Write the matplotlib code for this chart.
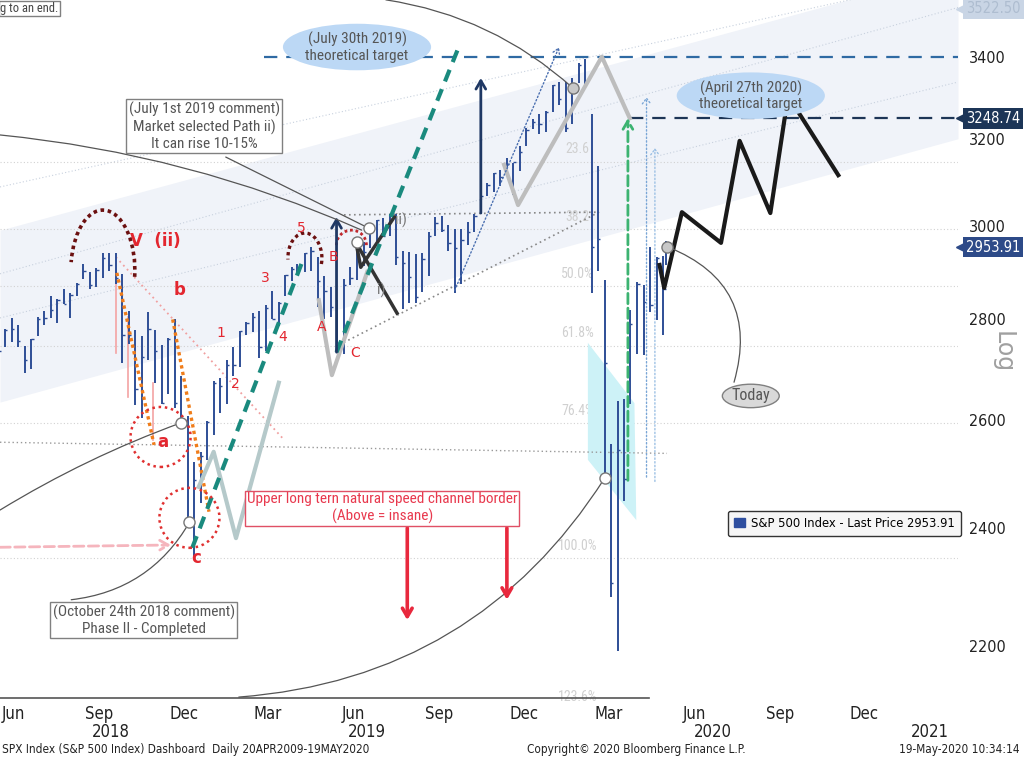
import os
import matplotlib
matplotlib.use("Agg")
import matplotlib.pyplot as plt
import matplotlib.dates as mdates
import matplotlib.patches as mpatches
from matplotlib import font_manager as fm
from matplotlib.font_manager import FontProperties
from matplotlib.transforms import ScaledTranslation, blended_transform_factory
from matplotlib.ticker import NullLocator, NullFormatter
import pandas as pd

# ---------------- data (weekly S&P 500 bars) ----------------
week_end = ["2018-06-01", "2018-06-08", "2018-06-15", "2018-06-22", "2018-06-29",
            "2018-07-06", "2018-07-13", "2018-07-20", "2018-07-27", "2018-08-03",
            "2018-08-10", "2018-08-17", "2018-08-24", "2018-08-31", "2018-09-07",
            "2018-09-14", "2018-09-21", "2018-09-28", "2018-10-05", "2018-10-12",
            "2018-10-19", "2018-10-26", "2018-11-02", "2018-11-09", "2018-11-16",
            "2018-11-23", "2018-11-30", "2018-12-07", "2018-12-14", "2018-12-21",
            "2018-12-28", "2019-01-04", "2019-01-11", "2019-01-18", "2019-01-25",
            "2019-02-01", "2019-02-08", "2019-02-15", "2019-02-22", "2019-03-01",
            "2019-03-08", "2019-03-15", "2019-03-22", "2019-03-29", "2019-04-05",
            "2019-04-12", "2019-04-18", "2019-04-26", "2019-05-03", "2019-05-10",
            "2019-05-17", "2019-05-24", "2019-05-31", "2019-06-07", "2019-06-14",
            "2019-06-21", "2019-06-28", "2019-07-05", "2019-07-12", "2019-07-19",
            "2019-07-26", "2019-08-02", "2019-08-09", "2019-08-16", "2019-08-23",
            "2019-08-30", "2019-09-06", "2019-09-13", "2019-09-20", "2019-09-27",
            "2019-10-04", "2019-10-11", "2019-10-18", "2019-10-25", "2019-11-01",
            "2019-11-08", "2019-11-15", "2019-11-22", "2019-11-29", "2019-12-06",
            "2019-12-13", "2019-12-20", "2019-12-27", "2020-01-03", "2020-01-10",
            "2020-01-17", "2020-01-24", "2020-01-31", "2020-02-07", "2020-02-14",
            "2020-02-21", "2020-02-28", "2020-03-06", "2020-03-13", "2020-03-20",
            "2020-03-27", "2020-04-03", "2020-04-09", "2020-04-17", "2020-04-24",
            "2020-05-01", "2020-05-08", "2020-05-15", "2020-05-18"]
high = [2742, 2780, 2802, 2789, 2746, 2760, 2804, 2817, 2848, 2842,
        2863, 2856, 2876, 2916, 2900, 2908, 2941, 2940, 2940, 2895,
        2817, 2779, 2766, 2815, 2779, 2748, 2761, 2800, 2685, 2607,
        2520, 2538, 2598, 2675, 2682, 2717, 2744, 2776, 2794, 2813,
        2817, 2831, 2860, 2836, 2893, 2910, 2916, 2940, 2954, 2932,
        2892, 2868, 2840, 2885, 2911, 2964, 2964, 2996, 3014, 3018,
        3028, 3028, 2945, 2943, 2939, 2940, 2986, 3021, 3022, 3002,
        2993, 2993, 3008, 3027, 3067, 3098, 3120, 3128, 3154, 3144,
        3183, 3226, 3248, 3258, 3267, 3330, 3338, 3338, 3348, 3385,
        3394, 3260, 3137, 2883, 2554, 2637, 2641, 2819, 2879, 2872,
        2955, 2933, 2934, 2968]
low = [2677, 2743, 2753, 2743, 2692, 2699, 2766, 2789, 2802, 2792,
       2833, 2802, 2849, 2885, 2864, 2868, 2887, 2903, 2874, 2711,
       2750, 2628, 2604, 2718, 2671, 2631, 2650, 2622, 2583, 2409,
       2347, 2444, 2524, 2570, 2613, 2631, 2685, 2704, 2768, 2775,
       2722, 2736, 2801, 2786, 2849, 2881, 2898, 2899, 2901, 2825,
       2801, 2806, 2751, 2729, 2873, 2883, 2913, 2952, 2966, 2975,
       2977, 2914, 2822, 2834, 2835, 2857, 2892, 2979, 2986, 2946,
       2856, 2874, 2959, 2986, 3026, 3067, 3076, 3091, 3115, 3070,
       3124, 3184, 3223, 3212, 3215, 3264, 3281, 3215, 3236, 3334,
       3329, 2856, 2902, 2479, 2281, 2192, 2448, 2630, 2730, 2727,
       2816, 2798, 2767, 2914]
close = [2735, 2779, 2780, 2755, 2718, 2760, 2801, 2802, 2819, 2840,
         2833, 2850, 2875, 2902, 2872, 2905, 2930, 2914, 2886, 2767,
         2768, 2659, 2723, 2781, 2736, 2633, 2760, 2633, 2600, 2417,
         2486, 2532, 2596, 2671, 2665, 2707, 2708, 2776, 2793, 2804,
         2743, 2823, 2801, 2834, 2893, 2907, 2905, 2940, 2946, 2881,
         2860, 2826, 2752, 2873, 2887, 2951, 2942, 2990, 3014, 2977,
         3026, 2932, 2919, 2889, 2847, 2927, 2979, 3007, 2992, 2962,
         2952, 2970, 2986, 3023, 3067, 3093, 3121, 3110, 3141, 3146,
         3169, 3221, 3240, 3235, 3265, 3330, 3296, 3226, 3328, 3380,
         3338, 2954, 2972, 2711, 2305, 2542, 2489, 2790, 2875, 2837,
         2831, 2930, 2864, 2954]

last_price = 2953.91
target_jul2019 = 3400.0
target_apr2020 = 3248.74
top_tag_price = 3522.50
fib_high = 3393.52
fib_low = 2346.58
fib_levels = [0.236, 0.382, 0.5, 0.618, 0.764, 1.0, 1.236]
fib_labels = ["23.6", "38.2", "50.0%", "61.8%", "76.4%", "100.0%", "123.6%"]
y_ticks = [2200, 2400, 2600, 2800, 3000, 3200, 3400]
month_dates = ["2018-06-15", "2018-09-15", "2018-12-15", "2019-03-15", "2019-06-15",
               "2019-09-15", "2019-12-15", "2020-03-15", "2020-06-15", "2020-09-15",
               "2020-12-15"]
month_labels = ["Jun", "Sep", "Dec", "Mar", "Jun", "Sep", "Dec", "Mar", "Jun", "Sep", "Dec"]
year_dates = ["2018-09-28", "2019-06-30", "2020-07-05", "2021-02-23"]
year_labels = ["2018", "2019", "2020", "2021"]

# ---------------- fonts ----------------
def find_font(prefixes):
    for pre in prefixes:
        for f in fm.fontManager.ttflist:
            if os.path.basename(f.fname).startswith(pre):
                return f.fname
    return None

narrow_path = find_font(["LiberationSansNarrow-Regular", "ArialNarrow", "arialn",
                         "RobotoCondensed-Regular", "Roboto_Condensed-Regular",
                         "DejaVuSansCondensed.ttf"])
cond_path = find_font(["DejaVuSansCondensed.ttf"])

def nf(size):
    if narrow_path:
        return FontProperties(fname=narrow_path, size=size)
    return FontProperties(family="Liberation Sans", size=size * 0.82)

def cf(size):
    if cond_path:
        return FontProperties(fname=cond_path, size=size)
    return FontProperties(family="DejaVu Sans", size=size * 0.9)

# ---------------- helpers ----------------
def D(s):
    return mdates.date2num(pd.Timestamp(s))

BAR = "#2e4e96"
RED = "#e3262f"

fig = plt.figure(figsize=(10.24, 7.58), dpi=100)
ax = fig.add_axes([0, 59 / 758, 958 / 1024, 699 / 758])
ax.set_yscale("log")
ax.set_ylim(2115.0, 3545.6)
ax.set_xlim(D("2018-05-31 12:00"), D("2021-03-25 14:00"))
for s in ax.spines.values():
    s.set_visible(False)

def seg(pts, **kw):
    ax.plot([D(d) for d, p in pts], [p for d, p in pts], **kw)

def conn(a, b, rad, color="#555555", lw=0.9):
    ax.annotate("", xy=(D(b[0]), b[1]), xytext=(D(a[0]), a[1]),
                arrowprops=dict(arrowstyle="-", connectionstyle=f"arc3,rad={rad}",
                                color=color, lw=lw, shrinkA=0, shrinkB=0),
                annotation_clip=False, zorder=6)

def arrow(a, b, color, lw, ls="-", hl=0.6, hw=0.35, z=6):
    ax.annotate("", xy=(D(b[0]), b[1]), xytext=(D(a[0]), a[1]),
                arrowprops=dict(arrowstyle=f"->,head_length={hl},head_width={hw}",
                                color=color, lw=lw, linestyle=ls, shrinkA=0, shrinkB=0),
                zorder=z)

def at(date, price):
    return fig.dpi_scale_trans + ScaledTranslation(D(date), price, ax.transData)

def circ(date, price, r_px, **kw):
    ax.add_patch(mpatches.Circle((0, 0), r_px / 100, transform=at(date, price),
                                 fill=False, **kw))

def arc(date, price, w, h, t1, t2, **kw):
    ax.add_patch(mpatches.Arc((0, 0), w / 100, h / 100, theta1=t1, theta2=t2,
                              transform=at(date, price), **kw))

# ---------------- background channel ----------------
xl = [D("2018-05-31 12:00"), D("2021-03-25 14:00")]
ax.fill_between(xl, [2634, 3200], [2991, 3625], color="#f0f3f9", zorder=0, lw=0)
for ys in ([2896, 3526], [3088, 3609], [2803, 3337]):
    ax.plot(xl, ys, color="#c8d1de", lw=0.8, ls=(0, (1, 2)), zorder=1)

for lev, lab in zip(fib_levels, fib_labels):
    val = fib_high - lev * (fib_high - fib_low)
    ax.axhline(val, color="#d2d2d2", lw=0.8, ls=(0, (1, 2)), zorder=1)
    ax.text(D("2020-02-11"), val * 1.004, lab, color="#d0d0d0", fontproperties=nf(10),
            ha="center", va="bottom", zorder=1)

ax.plot([xl[0], D("2020-04-28")], [2116.6, 2116.6], color="#555555", lw=1.2, zorder=2)

ax.fill([D("2020-02-22"), D("2020-04-12"), D("2020-04-14"), D("2020-02-22")],
        [2752, 2632, 2414, 2524], color="#cdf2f7", zorder=1, lw=0)

# ---------------- price bars ----------------
xb = [D(d) - 2 for d in week_end]
ax.vlines(xb, low, high, color=BAR, lw=1.4, zorder=3)
ax.hlines(close, xb, [x + 2.5 for x in xb], color=BAR, lw=1.0, zorder=3)

# ---------------- annotations ----------------
ax.plot([D("2019-03-11"), xl[1]], [target_jul2019] * 2, color="#2f6aa3", lw=1.6,
        ls=(0, (6, 4)), zorder=4)
ax.plot([D("2020-04-07"), xl[1]], [target_apr2020] * 2, color="#1d3556", lw=1.6,
        ls=(0, (6, 4)), zorder=4)

for d, p1, p2 in (("2018-10-03", 2898, 2731), ("2018-10-16", 2805, 2644),
                  ("2018-11-12", 2672, 2561)):
    ax.plot([D(d), D(d)], [p1, p2], color="#f4a3a3", lw=1.2, zorder=2)
seg([("2018-10-03", 2932), ("2019-04-02", 2561)], color="#f0a0a0", lw=1.3,
    ls=(0, (1, 2)), zorder=2)
arrow(("2018-05-31 12:00", 2366), ("2018-12-01", 2370), "#f5b5bd", 2, ls="--", z=2)

seg([("2018-10-04", 2898), ("2018-11-13", 2552)], color="#f07d1a", lw=2.4,
    ls=(0, (1, 1)), zorder=4)
seg([("2018-12-03", 2800), ("2019-01-11", 2429)], color="#f07d1a", lw=2.4,
    ls=(0, (1, 1)), zorder=4)

seg([("2018-05-31 12:00", 2557), ("2020-05-17", 2536)], color="#999999", lw=1,
    ls=(0, (1, 2)), zorder=2)
seg([("2019-06-05", 3025), ("2020-03-05", 3031)], color="#888888", lw=1.2,
    ls=(0, (1, 2)), zorder=2)
seg([("2019-05-31", 2748), ("2020-03-05", 3031)], color="#888888", lw=1.2,
    ls=(0, (1, 2)), zorder=2)
arrow(("2019-10-02", 2861), ("2020-01-22", 3424), "#4a6fb0", 1.0, ls=":", hl=0.4, hw=0.25)

seg([("2018-12-31", 2474), ("2019-01-16", 2539), ("2019-02-09", 2382),
     ("2019-03-27", 2672)], color="#b5c9ca", lw=3, zorder=4)
seg([("2019-05-09", 2840), ("2019-05-23", 2687), ("2019-06-30", 2900)],
    color="#bdbdbd", lw=3, zorder=4)
seg([("2019-11-24", 3139), ("2019-12-09", 3047), ("2020-03-08", 3400),
     ("2020-04-07", 3249)], color="#bdbdbd", lw=3, zorder=4)

seg([("2020-05-09", 2915), ("2020-05-14", 2866), ("2020-06-02", 3031),
     ("2020-07-14", 2963), ("2020-08-03", 3195), ("2020-09-05", 3029),
     ("2020-09-24", 3303), ("2020-11-17", 3115)], color="#1a1a1a", lw=3, zorder=5)
seg([("2019-06-18", 2963), ("2019-06-23", 2910), ("2019-07-29", 3020)],
    color="#333333", lw=2.5, zorder=5)
seg([("2019-06-18", 2963), ("2019-08-01", 2813)], color="#333333", lw=2.5, zorder=5)

seg([("2018-12-24", 2365), ("2019-04-21", 2921)], color="#1a8a7e", lw=3,
    ls=(0, (3, 2)), zorder=5)
seg([("2019-05-28", 2733), ("2019-10-05", 3417)], color="#1a8a7e", lw=3,
    ls=(0, (3, 2)), zorder=5)

arrow(("2019-05-28", 2733), ("2019-05-28", 3020), "#1f3864", 2)
arrow(("2019-10-30", 3029), ("2019-10-30", 3347), "#1f3864", 2)
arrow(("2020-04-05", 2486), ("2020-04-05", 3249), "#3cb371", 2, ls="--")
arrow(("2020-04-25", 2492), ("2020-04-25", 3300), "#7aa6d6", 1, ls=":", hl=0.4, hw=0.3)
arrow(("2020-05-04", 2484), ("2020-05-04", 3178), "#9cc0e4", 1, ls=":", hl=0.4, hw=0.3)

circ("2018-11-20", 2567, 30, edgecolor="#e03030", lw=1.8, ls=(0, (1, 1.5)), zorder=5)
circ("2018-12-21", 2418, 30, edgecolor="#e03030", lw=1.8, ls=(0, (1, 1.5)), zorder=5)
arc("2018-09-19", 2904, 64, 120, -12, 166, edgecolor="#6b1010", lw=2.6,
    ls=(0, (1, 1)), zorder=5)
arc("2019-04-24", 2930, 34, 50, -20, 185, edgecolor="#6b1010", lw=2.4,
    ls=(0, (1, 1)), zorder=5)
arc("2019-06-13", 2958, 30, 30, 0, 180, edgecolor="#c0282d", lw=2,
    ls=(0, (1, 1)), zorder=5)

conn(("2018-05-31 12:00", 3209), ("2019-06-24", 2991), -0.08)
conn(("2019-01-29", 3157), ("2019-07-01", 2996), 0.0)
conn(("2019-07-20", 3546), ("2020-02-06", 3322), -0.15)
conn(("2018-05-31 12:00", 2432), ("2018-12-12", 2594), -0.05)
conn(("2018-08-16", 2276), ("2018-12-21", 2410), 0.25)
conn(("2019-02-12", 2118), ("2020-03-11", 2490), 0.25)
conn(("2020-05-18", 2954), ("2020-07-28", 2673), -0.45)

for d, p, fc in (("2019-07-02", 2996, "white"), ("2019-06-19", 2965, "white"),
                 ("2020-02-06", 3322, "#c8c8c8"), ("2020-05-17", 2954, "#c8c8c8"),
                 ("2020-03-11", 2490, "white"), ("2018-12-12", 2594, "white"),
                 ("2018-12-21", 2410, "white")):
    ax.plot([D(d)], [p], marker="o", ms=8, mfc=fc, mec="#777777", mew=1, zorder=7)

for txt, d, p, bold, fs in (("V  (ii)", "2018-11-14", 2967, True, 12),
                            ("b", "2018-12-10", 2861, True, 12),
                            ("a", "2018-11-22", 2557, True, 12),
                            ("c", "2018-12-28", 2347, True, 12),
                            ("1", "2019-01-24", 2773, False, 10),
                            ("2", "2019-02-08", 2669, False, 10),
                            ("3", "2019-03-12", 2887, False, 10),
                            ("4", "2019-03-31", 2764, False, 10),
                            ("5", "2019-04-20", 2996, False, 10),
                            ("A", "2019-05-12", 2784, False, 10),
                            ("B", "2019-05-25", 2932, False, 10),
                            ("C", "2019-06-17", 2731, False, 10)):
    ax.text(D(d), p, txt, color=RED, fontsize=fs, ha="center", va="center",
            fontweight="bold" if bold else "normal", zorder=8)
ax.text(D("2019-07-15"), 2861, "i)", color="#777777", fontproperties=nf(11),
        ha="center", va="center", zorder=8)
ax.text(D("2019-08-05"), 3013, "ii)", color="#777777", fontproperties=nf(11),
        ha="center", va="center", zorder=8)

ax.text(D("2019-01-06"), 3230, "(July 1st 2019 comment)\nMarket selected Path ii)\nIt can rise 10-15%",
        ha="center", va="center", fontproperties=nf(11), color="#555555",
        linespacing=1.2, zorder=8,
        bbox=dict(boxstyle="square,pad=0.15", fc="white", ec="#808080", lw=1))
ax.text(D("2018-11-02"), 2242, "(October 24th 2018 comment)\nPhase II - Completed",
        ha="center", va="center", fontproperties=nf(11), color="#555555",
        linespacing=1.2, zorder=8,
        bbox=dict(boxstyle="square,pad=0.15", fc="white", ec="#808080", lw=1))
ax.text(D("2019-06-19"), 3424, "(July 30th 2019)\ntheoretical target", ha="center",
        va="center", fontproperties=nf(11), color="#555555", zorder=8,
        linespacing=1.15,
        bbox=dict(boxstyle="ellipse,pad=0.05", fc="#bcd8f5", ec="none"))
ax.text(D("2020-08-15"), 3303, "(April 27th 2020)\ntheoretical target", ha="center",
        va="center", fontproperties=nf(11), color="#555555", zorder=8,
        linespacing=1.15,
        bbox=dict(boxstyle="ellipse,pad=0.05", fc="#bcd8f5", ec="none"))
ax.text(D("2020-08-15"), 2646, "Today", ha="center", va="center",
        fontproperties=nf(11.5), color="#555555", zorder=8,
        bbox=dict(boxstyle="ellipse,pad=0.05", fc="#d9d9d9", ec="#808080"))
ax.text(D("2019-07-16"), 2436, "Upper long tern natural speed channel border\n(Above = insane)",
        ha="center", va="center", fontproperties=nf(11), color="#e8384d",
        linespacing=1.2, zorder=8,
        bbox=dict(boxstyle="square,pad=0.12", fc="white", ec="#e05065", lw=1))
arrow(("2019-08-12", 2400), ("2019-08-12", 2242), "#e8283d", 2.6)
arrow(("2019-11-27", 2400), ("2019-11-27", 2276), "#e8283d", 2.6)
ax.text(D("2018-06-01"), 3540, "g to an end.", ha="left", va="top",
        fontproperties=nf(9), color="#444444", clip_on=True, zorder=8,
        bbox=dict(boxstyle="square,pad=0.1", fc="white", ec="#808080"))

leg = ax.legend(handles=[mpatches.Patch(color="#2f4fa0")],
                labels=["S&P 500 Index - Last Price 2953.91"], loc="center",
                bbox_to_anchor=(844.5 / 958, (699 - 523.5) / 699), prop=cf(9.3),
                handlelength=0.8, handleheight=0.8, handletextpad=0.5,
                fancybox=True, framealpha=1, borderpad=0.5)
leg.get_frame().set_edgecolor("#333333")
leg.get_frame().set_facecolor("#f6f6f6")
leg.set_zorder(9)

# ---------------- axes ticks ----------------
ax.yaxis.tick_right()
ax.yaxis.set_minor_locator(NullLocator())
ax.yaxis.set_minor_formatter(NullFormatter())
ax.set_yticks(y_ticks)
ax.set_yticklabels([str(v) for v in y_ticks], fontproperties=cf(11.5))
ax.tick_params(axis="y", length=0, pad=8, labelcolor="#222222")
ax.set_xticks([D(d) for d in month_dates])
ax.set_xticklabels(month_labels, fontproperties=cf(12))
ax.xaxis.set_minor_locator(NullLocator())
ax.tick_params(axis="x", length=0, pad=4, labelcolor="#222222")
bt = blended_transform_factory(ax.transData, ax.transAxes)
for d, t in zip(year_dates, year_labels):
    ax.text(D(d), -33 / 699, t, transform=bt, ha="center", va="center",
            fontproperties=cf(12), color="#222222")

rt = blended_transform_factory(ax.transAxes, ax.transData)
for p, txt, fc, tc in ((top_tag_price, "3522.50", "#c9d5e5", "#aebdd0"),
                       (target_apr2020, "3248.74", "#1c3557", "white"),
                       (last_price, "2953.91", "#2d4a88", "white")):
    ax.plot([1.005], [p], marker="<", ms=10, color=fc, transform=rt, clip_on=False,
            zorder=9)
    ax.text(1.0085, p, txt, transform=rt, ha="left", va="center",
            fontproperties=cf(10.5), color=tc, clip_on=False, zorder=10,
            bbox=dict(boxstyle="square,pad=0.2", fc=fc, ec="none"))

fig.text(1003 / 1024, (758 - 352) / 758, "Log", rotation=270, color="#a0a0a0",
         fontsize=17, ha="center", va="center")
fig.text(2 / 1024, 9 / 758, "SPX Index (S&P 500 Index) Dashboard  Daily 20APR2009-19MAY2020",
         fontproperties=cf(8.5), color="#222222", ha="left", va="center")
fig.text(527 / 1024, 9 / 758, "Copyright\u00a9 2020 Bloomberg Finance L.P.",
         fontproperties=cf(8.5), color="#222222", ha="left", va="center")
fig.text(1020 / 1024, 9 / 758, "19-May-2020 10:34:14", fontproperties=cf(8.5),
         color="#222222", ha="right", va="center")

fig.savefig("out.png", dpi=100)
